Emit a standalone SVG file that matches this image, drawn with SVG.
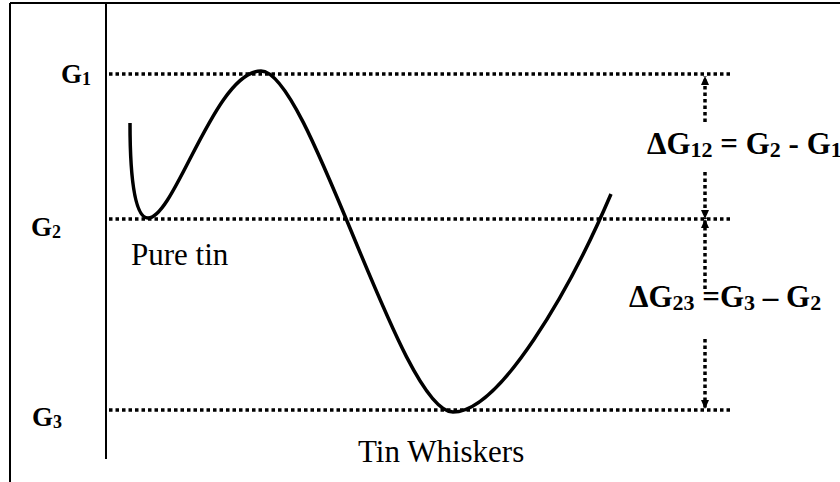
<svg xmlns="http://www.w3.org/2000/svg" width="840" height="482" viewBox="0 0 840 482">
<defs>
<style>
.frame{stroke:#000;stroke-width:2;fill:none}
.dot{stroke:#000;stroke-width:3.5;stroke-dasharray:3.5 3;fill:none}
.curve{stroke:#000;stroke-width:3.5;fill:none;stroke-linecap:butt}
.lbl{font-family:"Liberation Serif","Times New Roman",serif;font-weight:bold;fill:#000}
.txt{font-family:"Liberation Serif","Times New Roman",serif;fill:#000}
</style>
<marker id="ah" viewBox="0 0 9 8" refX="9" refY="4" markerWidth="9" markerHeight="8" markerUnits="userSpaceOnUse" orient="auto">
<path d="M0,0 L9,4 L0,8 Z" fill="#000"/>
</marker>
</defs>
<rect width="840" height="482" fill="#fff"/>
<g id="frame">
<line class="frame" x1="10" y1="3" x2="840" y2="3"/>
<line class="frame" x1="10" y1="3" x2="10" y2="482"/>
<line class="frame" x1="106" y1="3" x2="106" y2="459"/>
</g>
<g id="levels">
<line class="dot" x1="109" y1="74" x2="730" y2="74"/>
<line class="dot" x1="109" y1="219" x2="730" y2="219"/>
<line class="dot" x1="109" y1="410" x2="730" y2="410"/>
</g>
<g id="curve">
<path class="curve" d="M130,123 C130,185 136,218 148,218 C175,218 215,71 261,71 C310,71 400,412 453,412 C500,412 570,290 611,194"/>
</g>
<g id="connectors">
<line class="dot" x1="705" y1="122" x2="705" y2="76" marker-end="url(#ah)"/>
<line class="dot" x1="705" y1="172" x2="705" y2="219" marker-end="url(#ah)"/>
<line class="dot" x1="705" y1="289" x2="705" y2="219" marker-end="url(#ah)"/>
<line class="dot" x1="705" y1="339" x2="705" y2="409" marker-end="url(#ah)"/>
</g>
<g id="labels">
<text class="lbl" x="61" y="83" font-size="27">G<tspan font-size="18" dy="2">1</tspan></text>
<text class="lbl" x="31" y="236" font-size="27">G<tspan font-size="18" dy="2">2</tspan></text>
<text class="lbl" x="32" y="426" font-size="27">G<tspan font-size="18" dy="2">3</tspan></text>
<text class="txt" x="131" y="265" font-size="31">Pure tin</text>
<text class="txt" x="358" y="462" font-size="31">Tin Whiskers</text>
<text class="lbl" x="647" y="154" font-size="31">ΔG<tspan font-size="22" dy="3">12</tspan><tspan dy="-3"> = G</tspan><tspan font-size="22" dy="3">2</tspan><tspan dy="-3"> - G</tspan><tspan font-size="22" dy="3">1</tspan></text>
<text class="lbl" x="629" y="307" font-size="31">ΔG<tspan font-size="22" dy="3">23</tspan><tspan dy="-3"> =G</tspan><tspan font-size="22" dy="3">3</tspan><tspan dy="-3"> – G</tspan><tspan font-size="22" dy="3">2</tspan></text>
</g>
</svg>
